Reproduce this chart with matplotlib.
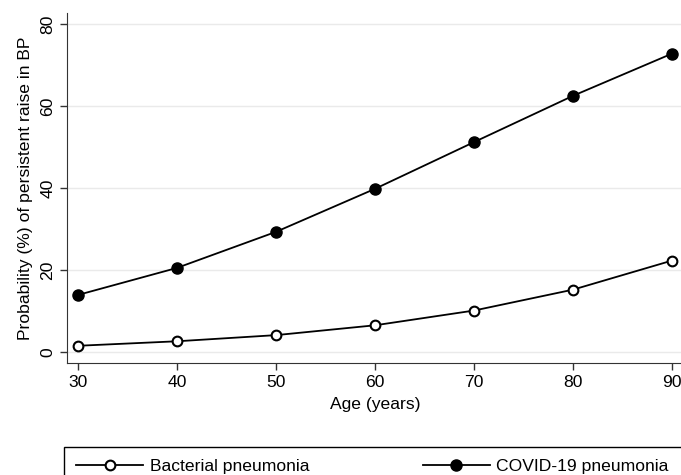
import matplotlib.pyplot as plt
from matplotlib import rcParams
from matplotlib.patches import Rectangle

rcParams['font.family'] = ['Liberation Sans', 'DejaVu Sans']

age = [30, 40, 50, 60, 70, 80, 90]
bacterial = [1.5, 2.6, 4.1, 6.5, 10.1, 15.2, 22.3]
covid = [13.9, 20.5, 29.3, 39.8, 51.2, 62.5, 72.8]
y_ticks = [0, 20, 40, 60, 80]
x_ticks = [30, 40, 50, 60, 70, 80, 90]

W, H = 681, 475
fs = 12.6
fig = plt.figure(figsize=(W / 100, H / 100), dpi=100)
ax = fig.add_axes([67 / W, 1 - 363 / H, (684 - 67) / W, (363 - 13) / H])

for y in y_ticks:
    ax.axhline(y, color='#eaeaea', lw=1, zorder=0)

ax.plot(age, bacterial, color='black', lw=1.3, marker='o', ms=7,
        mfc='white', mec='black', mew=1.5, label='Bacterial pneumonia', zorder=3)
ax.plot(age, covid, color='black', lw=1.3, marker='o', ms=8,
        mfc='black', mec='black', label='COVID-19 pneumonia', zorder=3)

ax.set_xlim(28.9, 91.2)
ax.set_ylim(-2.7, 82.7)
ax.set_xticks(x_ticks)
ax.set_yticks(y_ticks)
ax.tick_params(axis='both', labelsize=fs, length=5, width=1, color='#333333')
for lab in ax.get_yticklabels():
    lab.set_rotation(90)
    lab.set_va('center')
for side in ['top', 'right']:
    ax.spines[side].set_visible(False)
for side in ['left', 'bottom']:
    ax.spines[side].set_color('#333333')

ax.set_xlabel('Age (years)', fontsize=fs, labelpad=5)
ax.set_ylabel('Probability (%) of persistent raise in BP', fontsize=fs, labelpad=5)

# legend box runs past the right and bottom edges, as in the source graph
fig.patches.append(Rectangle((64 / W, -0.1), 1.2, (1 - 447 / H) + 0.1,
                             transform=fig.transFigure, fill=False,
                             edgecolor='black', lw=1))
handles, labels = ax.get_legend_handles_labels()
fig.legend(handles, labels, loc='upper left', ncol=2,
           bbox_to_anchor=(64 / W, 1 - 447 / H),
           fontsize=fs, frameon=False,
           handlelength=3.8, handletextpad=0.4, columnspacing=6.5,
           borderpad=0.7, borderaxespad=0)

fig.savefig('out.png', dpi=100)
